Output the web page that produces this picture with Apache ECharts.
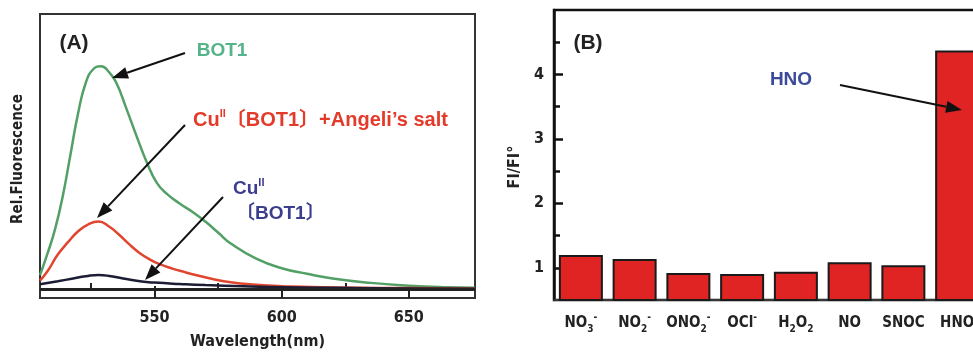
<!DOCTYPE html>
<html>
<head>
<meta charset="utf-8">
<script src="https://cdn.jsdelivr.net/npm/echarts@6/dist/echarts.min.js"></script>
<style>
html, body { margin: 0; padding: 0; background: #fff; }
#main { width: 973px; height: 352px; }
</style>
</head>
<body>
<div id="main"></div>
<script>
// (A) 荧光光谱
const bot1Wl = [505, 508, 511, 514, 517, 520, 523, 526, 529, 532, 535, 539, 543, 547, 551, 555, 560, 565, 570, 575, 580, 590, 600, 610, 620, 635, 650, 665, 676];
const bot1Val = [5, 13, 22, 34, 49, 64, 75, 80, 81, 79, 75, 65.5, 55.5, 46, 38.5, 34.5, 31, 28, 24.5, 20.5, 16.5, 11, 7.5, 5.5, 3.8, 2.2, 1.2, 0.6, 0.4];

const angeliWl = [505, 508, 512, 516, 520, 524, 528, 532, 536, 540, 544, 548, 552, 557, 562, 567, 572, 580, 590, 600, 620, 650, 676];
const angeliVal = [3, 6.5, 12.5, 17, 21, 23.5, 24.5, 22.8, 19.8, 16.3, 13.2, 10.8, 9, 7.4, 6.1, 4.9, 3.8, 2.4, 1.5, 1, 0.5, 0.3, 0.2];

const cuWl = [505, 512, 518, 523, 528, 533, 539, 545, 550, 560, 570, 585, 600, 620, 650, 676];
const cuVal = [1.7, 2.8, 3.8, 4.6, 5.1, 4.6, 3.6, 2.7, 2.3, 1.8, 1.4, 1, 0.6, 0.4, 0.2, 0.1];

const wlTicks = [550, 600, 650];
const wlMinorTicks = [525, 575, 625];

// (B) 选择性
const species = ['NO₃⁻', 'NO₂⁻', 'ONO₂⁻', 'OCl⁻', 'H₂O₂', 'NO', 'SNOC', 'HNO'];
const ratios = [1.2, 1.135, 0.92, 0.905, 0.94, 1.085, 1.04, 4.37];
const ratioTicks = [1, 2, 3, 4];
const ratioMinorTicks = [1.5, 2.5, 3.5, 4.5];

const narrow = '"DejaVu Sans Condensed", "Liberation Sans Narrow", sans-serif';
const sans = '"Liberation Sans", Arial, "Noto Sans CJK SC", sans-serif';

const zip = (xs, ys) => xs.map((x, i) => [x, ys[i]]);

// 上下标转换成富文本
function chemLabel(s) {
    const subs = '₀₁₂₃₄₅₆₇₈₉';
    let out = '', buf = '';
    const flush = () => { if (buf) { out += '{m|' + buf + '}'; buf = ''; } };
    for (const ch of s) {
        const k = subs.indexOf(ch);
        if (k >= 0) { flush(); out += '{sub|' + k + '}'; }
        else if (ch === '⁻') { flush(); out += '{sup|-}'; }
        else buf += ch;
    }
    flush();
    return out;
}

function arrow(x1, y1, x2, y2) {
    const ang = Math.atan2(y2 - y1, x2 - x1);
    const len = 16, half = 6;
    const bx = x2 - len * Math.cos(ang), by = y2 - len * Math.sin(ang);
    const nx = -Math.sin(ang) * half, ny = Math.cos(ang) * half;
    return [
        { type: 'line', shape: { x1: x1, y1: y1, x2: bx, y2: by }, style: { stroke: '#111', lineWidth: 2 }, z: 20 },
        { type: 'polygon', shape: { points: [[x2, y2], [bx + nx, by + ny], [bx - nx, by - ny]] }, style: { fill: '#111' }, z: 20 }
    ];
}

const chart = echarts.init(document.getElementById('main'));

const tickLabelStyle = { color: '#222', fontFamily: narrow, fontWeight: 'bold', fontSize: 16 };

const option = {
    backgroundColor: '#fff',
    animation: false,
    grid: [
        { left: 40, top: 14, width: 435, height: 284, show: true, borderColor: '#333', borderWidth: 2, backgroundColor: 'transparent', outerBoundsMode: 'none' },
        { left: 554, top: 10, width: 430, height: 290, show: true, borderColor: '#111', borderWidth: 2.5, backgroundColor: 'transparent', outerBoundsMode: 'none' }
    ],
    xAxis: [
        {
            gridIndex: 0, type: 'value', min: 505, max: 676, position: 'bottom',
            name: 'Wavelength(nm)', nameLocation: 'middle', nameGap: 36,
            nameTextStyle: { color: '#222', fontFamily: narrow, fontWeight: 'bold', fontSize: 16 },
            axisLine: { onZero: false, lineStyle: { color: '#333', width: 2 } },
            axisTick: { inside: true, length: 12, customValues: wlTicks, lineStyle: { color: '#222', width: 2 } },
            axisLabel: Object.assign({ margin: 12, customValues: wlTicks }, tickLabelStyle),
            splitLine: { show: false }
        },
        {
            gridIndex: 0, type: 'value', min: 505, max: 676, position: 'bottom',
            axisLine: { show: false },
            axisTick: { inside: true, length: 6, customValues: wlMinorTicks, lineStyle: { color: '#222', width: 2 } },
            axisLabel: { show: false },
            splitLine: { show: false }
        },
        {
            gridIndex: 1, type: 'category', data: species,
            axisLine: { lineStyle: { color: '#444', width: 1.5 } },
            axisTick: { show: false },
            axisLabel: {
                interval: 0, margin: 12, color: '#222', fontFamily: narrow, fontWeight: 'bold', fontSize: 15,
                formatter: chemLabel,
                rich: {
                    m: { fontFamily: narrow, fontWeight: 'bold', fontSize: 15, color: '#222', lineHeight: 22 },
                    sub: { fontFamily: narrow, fontWeight: 'bold', fontSize: 10, color: '#222', lineHeight: 10, verticalAlign: 'bottom' },
                    sup: { fontFamily: narrow, fontWeight: 'bold', fontSize: 10, color: '#222', lineHeight: 10, verticalAlign: 'top' }
                }
            }
        }
    ],
    yAxis: [
        { gridIndex: 0, type: 'value', min: -3.3, max: 100, show: false },
        {
            gridIndex: 1, type: 'value', min: 0.5, max: 5, position: 'left',
            axisLine: { show: true, lineStyle: { color: '#111', width: 2.5 } },
            axisTick: { show: true, inside: true, length: 9, customValues: ratioTicks, lineStyle: { color: '#111', width: 2.5 } },
            axisLabel: Object.assign({ margin: 10, customValues: ratioTicks }, tickLabelStyle),
            splitLine: { show: false }
        },
        {
            gridIndex: 1, type: 'value', min: 0.5, max: 5, position: 'left',
            axisLine: { show: false },
            axisTick: { show: true, inside: true, length: 6, customValues: ratioMinorTicks, lineStyle: { color: '#111', width: 2.5 } },
            axisLabel: { show: false },
            splitLine: { show: false }
        }
    ],
    series: [
        {
            name: 'BOT1', type: 'line', xAxisIndex: 0, yAxisIndex: 0,
            data: zip(bot1Wl, bot1Val), smooth: true, symbol: 'none',
            lineStyle: { color: '#52a065', width: 2.5 }
        },
        {
            name: 'CuII(BOT1)+Angeli’s salt', type: 'line', xAxisIndex: 0, yAxisIndex: 0,
            data: zip(angeliWl, angeliVal), smooth: true, symbol: 'none',
            lineStyle: { color: '#e0462f', width: 2.5 }
        },
        {
            name: 'CuII(BOT1)', type: 'line', xAxisIndex: 0, yAxisIndex: 0,
            data: zip(cuWl, cuVal), smooth: true, symbol: 'none',
            lineStyle: { color: '#1c1c34', width: 2.5 },
            markLine: {
                silent: true, symbol: 'none', label: { show: false },
                lineStyle: { color: '#222', width: 3, type: 'solid' },
                data: [{ yAxis: 0 }]
            }
        },
        {
            name: 'FI/FI°', type: 'bar', xAxisIndex: 2, yAxisIndex: 1,
            data: ratios, barWidth: 44, clip: true,
            itemStyle: { color: '#e02424', borderColor: '#1a1a1a', borderWidth: 2 }
        }
    ],
    graphic: [
        { type: 'text', x: 18.5, y: 159, rotation: Math.PI / 2, style: { text: 'Rel.Fluorescence', fill: '#222', font: 'bold 15px ' + narrow, align: 'center', verticalAlign: 'middle' } },
        { type: 'text', x: 515, y: 167, rotation: Math.PI / 2, style: { text: 'FI/FI°', fill: '#222', font: 'bold 16px ' + narrow, align: 'center', verticalAlign: 'middle' } },
        { type: 'text', x: 74, y: 43, style: { text: '(A)', fill: '#222', font: 'bold 21px ' + sans, align: 'center', verticalAlign: 'middle' } },
        { type: 'text', x: 588, y: 43, style: { text: '(B)', fill: '#222', font: 'bold 21px ' + sans, align: 'center', verticalAlign: 'middle' } },
        { type: 'text', x: 222, y: 51, style: { text: 'BOT1', fill: '#55b389', font: 'bold 19px ' + sans, align: 'center', verticalAlign: 'middle' } },
        {
            type: 'text', x: 193, y: 120,
            style: {
                text: '{m|Cu}{s|II}{m|〔BOT1〕+Angeli’s salt}', verticalAlign: 'middle', align: 'left',
                rich: {
                    m: { fill: '#e33a2a', font: 'bold 20px ' + sans, lineHeight: 24 },
                    s: { fill: '#e33a2a', font: 'bold 11px ' + sans, lineHeight: 13, verticalAlign: 'top' }
                }
            }
        },
        {
            type: 'text', x: 233, y: 189,
            style: {
                text: '{m|Cu}{s|II}', verticalAlign: 'middle', align: 'left',
                rich: {
                    m: { fill: '#3b3d8f', font: 'bold 19px ' + sans, lineHeight: 23 },
                    s: { fill: '#3b3d8f', font: 'bold 11px ' + sans, lineHeight: 13, verticalAlign: 'top' }
                }
            }
        },
        { type: 'text', x: 236, y: 214, style: { text: '〔BOT1〕', fill: '#3b3d8f', font: 'bold 19px ' + sans, align: 'left', verticalAlign: 'middle' } },
        { type: 'text', x: 791, y: 80, style: { text: 'HNO', fill: '#3c4a9a', font: 'bold 19px ' + sans, align: 'center', verticalAlign: 'middle' } }
    ]
        .concat(arrow(185, 53, 112, 78))
        .concat(arrow(185, 125, 97, 218))
        .concat(arrow(223, 197, 145, 280))
        .concat(arrow(840, 85, 962, 110))
};

chart.setOption(option);

window.addEventListener('resize', () => {
    chart.resize();
});
</script>
</body>
</html>
